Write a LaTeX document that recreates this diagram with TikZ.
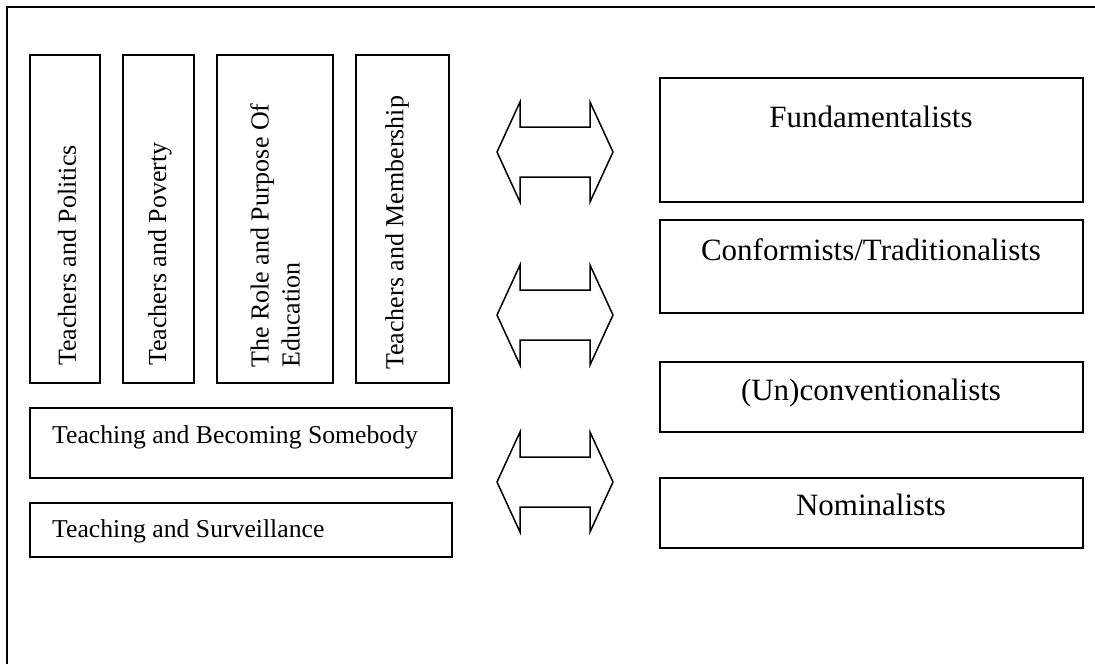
\documentclass[tikz,border=0pt]{standalone}
\usepackage{fontspec}
\setmainfont{Liberation Serif}
\usetikzlibrary{calc}
\begin{document}
\begin{tikzpicture}[x=1pt,y=-1pt,
  box/.style={draw,line width=1.5pt,inner sep=0pt,minimum width=#1},
  lt/.style={font=\fontsize{25.7}{30}\selectfont,inner sep=0pt},
  vt/.style={font=\fontsize{26}{31}\selectfont,inner sep=0pt,rotate=90,anchor=west,align=left},
  rt/.style={font=\fontsize{31}{36}\selectfont,inner sep=0pt,anchor=base},
  dbl/.style={draw,line width=1.5pt,line join=miter}]
\useasboundingbox (0,0) rectangle (1095,664);
% outer frame (cropped)
\draw[line width=1.8pt] (7,664) -- (7,7) -- (1095,7);
% vertical boxes
\node[box=70pt,minimum height=328pt] (b1) at (65,219) {};
\node[box=71pt,minimum height=328pt] (b2) at (158.5,219) {};
\node[box=116pt,minimum height=328pt] (b3) at (275,219) {};
\node[box=93pt,minimum height=328pt] (b4) at (402.5,219) {};
\node[vt] (t1) at (67,366) {Teachers and Politics};
\node[vt] (t2) at (160,366) {Teachers and Poverty};
\node[vt] (t3) at (275,368) {The Role and Purpose Of\\Education};
\node[vt] (t4) at (397,370) {Teachers and Membership};
% horizontal boxes
\node[box=422pt,minimum height=70pt] (h1) at (241,443) {};
\node[box=422pt,minimum height=54pt] (h2) at (241,530) {};
\node[lt,anchor=base west] (ht1) at (52,443) {Teaching and Becoming Somebody};
\node[lt,anchor=base west] (ht2) at (52,537) {Teaching and Surveillance};
% right boxes
\node[box=423pt,minimum height=124pt] (r1) at (871.5,140) {};
\node[box=423pt,minimum height=93pt] (r2) at (871.5,266.5) {};
\node[box=423pt,minimum height=70pt] (r3) at (871.5,397) {};
\node[box=423pt,minimum height=70pt] (r4) at (871.5,513) {};
\node[rt] (rt1) at (871,127) {Fundamentalists};
\node[rt] (rt2) at (871,260) {Conformists/Traditionalists};
\node[rt] (rt3) at (871,400) {(Un)conventionalists};
\node[rt] (rt4) at (871,515) {Nominalists};
% double arrows
\foreach \c/\n in {152/a1,315/a2,482/a3}{
  \coordinate (\n) at (555,\c);
  \draw[dbl] ($(\n)+(-58,0)$) -- ++(23,-50) -- ++(0,25) -- ++(70,0) -- ++(0,-25)
    -- ++(23,50) -- ++(-23,50) -- ++(0,-25) -- ++(-70,0) -- ++(0,25) -- cycle;
}
\end{tikzpicture}
\end{document}
